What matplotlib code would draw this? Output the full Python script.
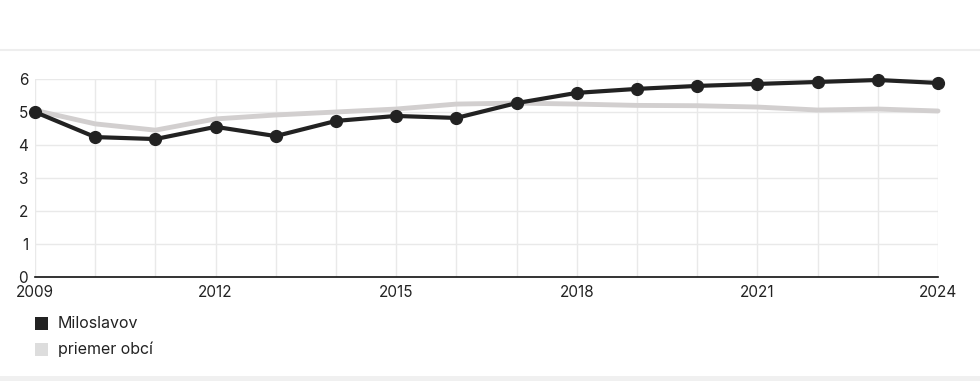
import matplotlib
matplotlib.use("Agg")
import matplotlib.pyplot as plt
from matplotlib.lines import Line2D

years = list(range(2009, 2025))
miloslavov = [5.0, 4.24, 4.18, 4.55, 4.27, 4.73, 4.88, 4.82, 5.27, 5.58, 5.70, 5.79, 5.85, 5.91, 5.97, 5.88]
priemer = [5.05, 4.64, 4.45, 4.79, 4.91, 5.0, 5.09, 5.24, 5.27, 5.24, 5.2, 5.19, 5.15, 5.06, 5.09, 5.03]
xtick_labels = [2009, 2012, 2015, 2018, 2021, 2024]
yticks = [0, 1, 2, 3, 4, 5, 6]
series_names = ["Miloslavov", "priemer obcí"]

plt.rcParams['font.family'] = ['Inter', 'DejaVu Sans']

W, H = 980, 381
fig = plt.figure(figsize=(W / 100, H / 100), dpi=100)
fig.patch.set_facecolor("white")

ax = fig.add_axes([35 / W, (H - 277) / H, (938 - 35) / W, (277 - 79) / H])
ax.set_xlim(2009, 2024)
ax.set_ylim(0, 6)

ax.set_xticks(years, minor=False)
ax.set_xticklabels([str(y) if y in xtick_labels else "" for y in years])
ax.set_yticks(yticks)
ax.set_yticklabels([str(v) for v in yticks])
ax.grid(True, color="#e9e9e9", linewidth=1)
ax.set_axisbelow(True)
for s in ["left", "right", "top"]:
    ax.spines[s].set_visible(False)
ax.spines["bottom"].set_color("#111111")
ax.spines["bottom"].set_linewidth(1.2)
ax.tick_params(axis="both", length=0, labelsize=11, colors="#222222")
ax.tick_params(axis="x", pad=6)
ax.tick_params(axis="y", pad=5)
for lbl in ax.get_yticklabels():
    lbl.set_va("center_baseline")

ax.plot(years, priemer, color="#d2cfcf", linewidth=3.5, solid_capstyle="round", zorder=3, clip_on=False)
ax.plot(years, miloslavov, color="#222222", linewidth=3.0, marker="o", markersize=8.5,
        zorder=4, clip_on=False)

# separator line at top and footer band
fig.add_artist(Line2D([0, 1], [1 - 50 / H, 1 - 50 / H], color="#eeeeee", linewidth=1.5))
fig.patches.append(plt.Rectangle((0, 0), 1, 5 / H, transform=fig.transFigure,
                                 facecolor="#f0f0f0", edgecolor="none"))

# legend
leg_colors = ["#222222", "#dddddd"]
for i, (name, c) in enumerate(zip(series_names, leg_colors)):
    yy = 1 - (323 + i * 26) / H
    fig.patches.append(plt.Rectangle((35 / W, yy - 6.5 / H), 13 / W, 13 / H,
                                     transform=fig.transFigure, facecolor=c, edgecolor="none"))
    fig.text(58 / W, yy, name, fontsize=11.5, color="#222222", va="center", ha="left")

fig.savefig("out.png", dpi=100)
